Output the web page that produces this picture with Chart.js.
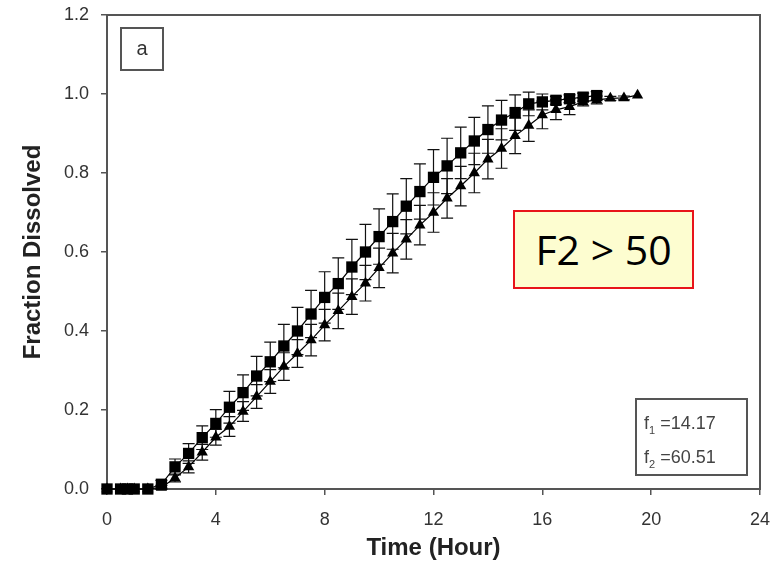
<!DOCTYPE html>
<html lang="en">
<head>
    <meta charset="UTF-8">
    <title>Fraction Dissolved vs Time</title>
    <script src="https://cdn.jsdelivr.net/npm/chart.js"></script>
    <style>
        body { margin: 0; background: #fff; }
        #wrap { position: relative; width: 771px; height: 566px; }
        .note { position: absolute; box-sizing: border-box; font-family: "Liberation Sans", Arial, sans-serif; color: #444; }
        #panel { left: 120px; top: 27px; width: 44px; height: 44px; border: 2px solid #555;
                 font-size: 20px; text-align: center; line-height: 38px; color: #333; }
        #f2box { left: 513px; top: 210px; width: 181px; height: 79px; border: 2px solid #e8141a;
                 background: #fdfdd0; font-family: "Open Sans", sans-serif; font-size: 41px;
                 color: #000; text-align: center; line-height: 74px; }
        #stats { left: 635px; top: 398px; width: 113px; height: 78px; border: 2px solid #555;
                 font-size: 18px; padding: 6px 0 0 7px; }
        #stats div { height: 34px; line-height: 34px; }
        #stats sub { font-size: 11px; }
    </style>
</head>
<body>
    <div id="wrap">
        <canvas id="chart" width="771" height="566"></canvas>
        <div id="panel" class="note">a</div>
        <div id="f2box" class="note">F2 &gt; 50</div>
        <div id="stats" class="note">
            <div>f<sub>1</sub> =14.17</div>
            <div>f<sub>2</sub> =60.51</div>
        </div>
    </div>

    <script>
        // Reference product (squares)
        const timesRef = [0, 0.5, 0.75, 1, 1.5, 2, 2.5, 3, 3.5, 4, 4.5, 5, 5.5, 6, 6.5, 7, 7.5, 8, 8.5, 9, 9.5,
                          10, 10.5, 11, 11.5, 12, 12.5, 13, 13.5, 14, 14.5, 15, 15.5, 16, 16.5, 17, 17.5, 18];
        const meanRef = [0, 0, 0, 0, 0, 0.012, 0.056, 0.09, 0.13, 0.166, 0.207, 0.244, 0.286, 0.322, 0.362, 0.40, 0.443,
                         0.485, 0.52, 0.562, 0.60, 0.639, 0.677, 0.716, 0.753, 0.789, 0.818, 0.851, 0.881, 0.91, 0.934,
                         0.953, 0.975, 0.98, 0.984, 0.988, 0.992, 0.996];
        const sdRef = [0, 0, 0, 0, 0, 0.01, 0.02, 0.025, 0.03, 0.035, 0.04, 0.045, 0.05, 0.05, 0.055, 0.06, 0.06,
                       0.065, 0.065, 0.07, 0.07, 0.07, 0.07, 0.07, 0.07, 0.07, 0.07, 0.065, 0.06, 0.06, 0.05,
                       0.045, 0.03, 0.02, 0.01, 0.01, 0.01, 0.01];

        // Test product (triangles)
        const timesTest = [0, 0.5, 0.75, 1, 1.5, 2, 2.5, 3, 3.5, 4, 4.5, 5, 5.5, 6, 6.5, 7, 7.5, 8, 8.5, 9, 9.5,
                           10, 10.5, 11, 11.5, 12, 12.5, 13, 13.5, 14, 14.5, 15, 15.5, 16, 16.5, 17, 17.5, 18,
                           18.5, 19, 19.5];
        const meanTest = [0, 0, 0, 0, 0, 0.004, 0.028, 0.056, 0.093, 0.131, 0.158, 0.196, 0.234, 0.272, 0.31, 0.343,
                          0.377, 0.415, 0.451, 0.487, 0.521, 0.56, 0.597, 0.632, 0.668, 0.70, 0.736, 0.767, 0.80,
                          0.835, 0.862, 0.894, 0.92, 0.947, 0.96, 0.968, 0.98, 0.985, 0.989, 0.99, 0.997];
        const sdTest = [0, 0, 0, 0, 0, 0.005, 0.01, 0.015, 0.02, 0.02, 0.025, 0.025, 0.03, 0.03, 0.035, 0.035, 0.04,
                        0.04, 0.045, 0.045, 0.045, 0.05, 0.05, 0.05, 0.05, 0.05, 0.05, 0.05, 0.05, 0.05, 0.05,
                        0.045, 0.04, 0.035, 0.025, 0.02, 0.01, 0.01, 0.005, 0.005, 0];

        const xTicks = [0, 4, 8, 12, 16, 20, 24];
        const yTicks = [0, 0.2, 0.4, 0.6, 0.8, 1.0, 1.2];

        const toPoints = (xs, ys) => xs.map((x, i) => ({ x: x, y: ys[i] }));

        const AXIS = '#555';
        const FONT = '"Liberation Sans", Arial, sans-serif';

        // box around the plot area (drawn before the markers)
        const frame = {
            id: 'frame',
            beforeDatasetsDraw(chart) {
                const { ctx, chartArea: a } = chart;
                ctx.save();
                ctx.strokeStyle = AXIS;
                ctx.lineWidth = 2;
                ctx.strokeRect(a.left, a.top, a.right - a.left, a.bottom - a.top);
                ctx.restore();
            }
        };

        // vertical error bars with caps, from each dataset's errors array
        const errorBars = {
            id: 'errorBars',
            beforeDatasetsDraw(chart) {
                const { ctx, scales: { x, y } } = chart;
                ctx.save();
                ctx.strokeStyle = '#111';
                ctx.lineWidth = 1.2;
                chart.data.datasets.forEach(ds => {
                    ds.data.forEach((p, i) => {
                        const e = ds.errors[i];
                        if (!e) return;
                        const px = x.getPixelForValue(p.x);
                        const hi = y.getPixelForValue(p.y + e);
                        const lo = y.getPixelForValue(p.y - e);
                        ctx.beginPath();
                        ctx.moveTo(px, hi); ctx.lineTo(px, lo);
                        ctx.moveTo(px - 6, hi); ctx.lineTo(px + 6, hi);
                        ctx.moveTo(px - 6, lo); ctx.lineTo(px + 6, lo);
                        ctx.stroke();
                    });
                });
                ctx.restore();
            }
        };

        new Chart(document.getElementById('chart'), {
            type: 'line',
            data: {
                datasets: [
                    {
                        label: 'Reference',
                        data: toPoints(timesRef, meanRef),
                        errors: sdRef,
                        borderColor: '#000',
                        borderWidth: 1.2,
                        backgroundColor: '#000',
                        pointStyle: 'rect',
                        pointRadius: 8,
                        pointBorderWidth: 0,
                        tension: 0,
                        clip: false
                    },
                    {
                        label: 'Test',
                        data: toPoints(timesTest, meanTest),
                        errors: sdTest,
                        borderColor: '#000',
                        borderWidth: 1.2,
                        backgroundColor: '#000',
                        pointStyle: 'triangle',
                        pointRadius: 6.5,
                        pointBorderWidth: 0,
                        tension: 0,
                        clip: false
                    }
                ]
            },
            options: {
                responsive: false,
                animation: false,
                layout: { padding: { top: 15, right: 11, left: 0, bottom: 0 } },
                plugins: { legend: { display: false }, tooltip: { enabled: false } },
                scales: {
                    x: {
                        type: 'linear',
                        min: 0,
                        max: 24,
                        afterBuildTicks: s => { s.ticks = xTicks.map(v => ({ value: v })); },
                        afterFit: s => { s.height = 77; s.paddingLeft = 0; s.paddingRight = 0; },
                        border: { display: false },
                        grid: { drawOnChartArea: false, drawTicks: true, tickLength: 6, color: AXIS, lineWidth: 1.5 },
                        ticks: { font: { family: FONT, size: 18 }, color: '#333', padding: 14, maxRotation: 0 },
                        title: {
                            display: true,
                            text: 'Time (Hour)',
                            font: { family: FONT, size: 24, weight: 'bold' },
                            color: '#222',
                            padding: { top: 0, bottom: 3 }
                        }
                    },
                    y: {
                        min: 0,
                        max: 1.2,
                        afterBuildTicks: s => { s.ticks = yTicks.map(v => ({ value: v })); },
                        afterFit: s => { s.width = 107; s.paddingTop = 0; s.paddingBottom = 0; },
                        border: { display: false },
                        grid: { drawOnChartArea: false, drawTicks: true, tickLength: 6, color: AXIS, lineWidth: 1.5 },
                        ticks: { font: { family: FONT, size: 18 }, color: '#333', padding: 12,
                                 callback: v => v.toFixed(1) },
                        title: {
                            display: true,
                            text: 'Fraction Dissolved',
                            font: { family: FONT, size: 24, weight: 'bold' },
                            color: '#222',
                            padding: { top: 19, bottom: 0 }
                        }
                    }
                }
            },
            plugins: [frame, errorBars]
        });
    </script>
</body>
</html>
